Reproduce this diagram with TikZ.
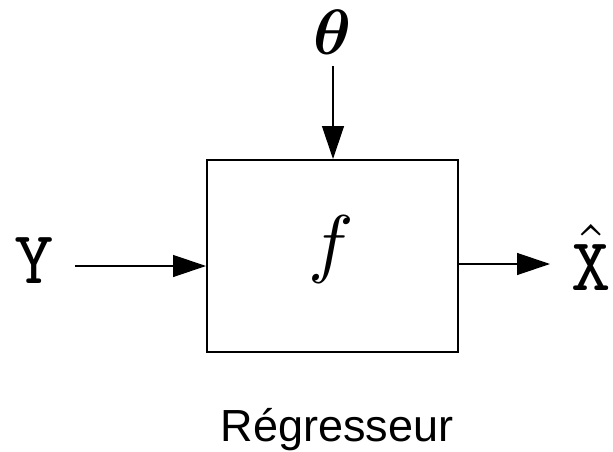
\documentclass[tikz,border=0pt]{standalone}
\usepackage{graphicx}
\usepackage{fontspec}
\usepackage{bm}
\setmainfont{Liberation Sans}
\usetikzlibrary{arrows.meta}
\tikzset{
  conn/.style={line width=1.3pt,-{Triangle[length=33pt,width=22pt]}},
  blockbox/.style={draw,line width=2pt,minimum width=251pt,minimum height=192pt,inner sep=0pt},
}
\begin{document}
\begin{tikzpicture}[x=1pt,y=-1pt]
\useasboundingbox (0,0) rectangle (613,452);
\node[blockbox] (box) at (332.5,256) {};
\node[anchor=base,inner sep=0pt] (f) at (331,268) {\scalebox{7.6}{$f$}};
\node[anchor=base,inner sep=0pt] (theta) at (332,55) {\scalebox{6.4}{$\bm{\theta}$}};
\node[anchor=base,inner sep=0pt] (y) at (34,283) {\scalebox{7.5}{\ttfamily Y}};
\node[anchor=base,inner sep=0pt] (x) at (591,290) {\scalebox{7.5}{\ttfamily$\hat{\mbox{X}}$}};
\node[anchor=base,inner sep=0pt] (lab) at (337,441) {\fontsize{45}{45}\selectfont Régresseur};
\coordinate (ts) at (333,66);
\coordinate (ys) at (75,266);
\coordinate (xe) at (550,264);
\draw[conn] (ts) -- (ts |- box.north);
\draw[conn] (ys) -- (ys -| box.west);
\draw[conn] (xe -| box.east) -- (xe);
\end{tikzpicture}
\end{document}
